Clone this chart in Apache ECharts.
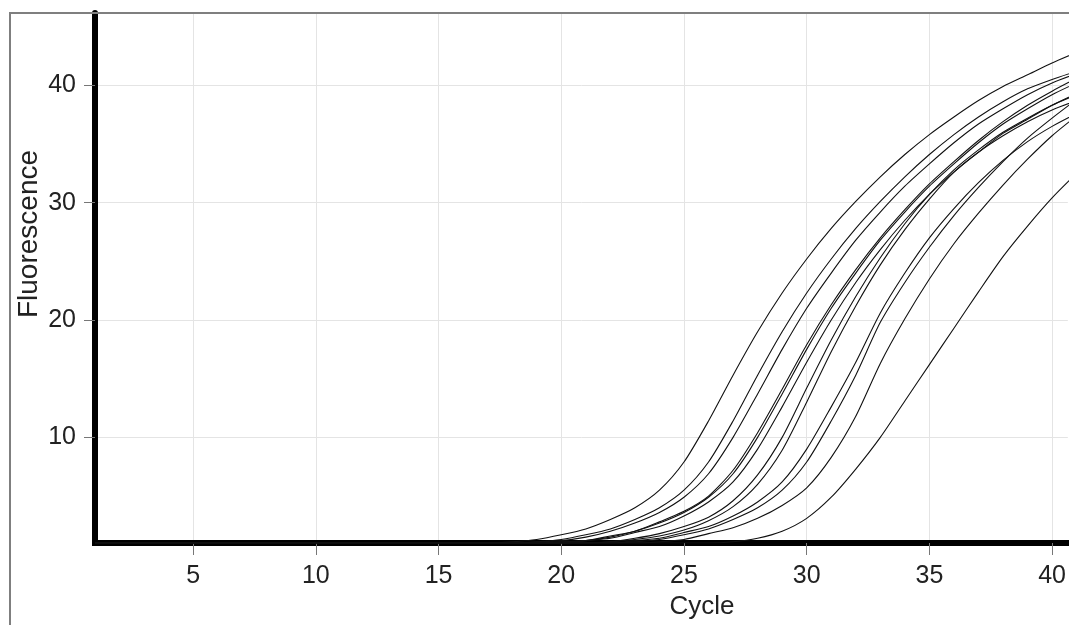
<!DOCTYPE html>
<html>
<head>
<meta charset="utf-8">
<script src="https://cdn.jsdelivr.net/npm/echarts@6/dist/echarts.min.js"></script>
<style>
  html, body { margin: 0; padding: 0; background: #fff; }
  #chart { width: 1069px; height: 625px; }
</style>
</head>
<body>
<div id="chart"></div>
<script>
// amplification curves, one value per cycle (cycle 1..41)
var cycles = [1,2,3,4,5,6,7,8,9,10,11,12,13,14,15,16,17,18,19,20,21,22,23,24,25,26,27,28,29,30,31,32,33,34,35,36,37,38,39,40,41];

var well1 = [1.0,1.0,1.0,1.0,1.0,1.0,1.0,1.0,1.0,1.0,1.0,1.0,1.0,1.0,1.0,1.0,1.0,1.1,1.3,1.7,2.2,3.0,4.0,5.5,7.9,11.4,15.3,19.0,22.3,25.2,27.8,30.1,32.2,34.1,35.8,37.3,38.7,39.9,40.9,41.9,42.8];
var well2 = [1.0,1.0,1.0,1.0,1.0,1.0,1.0,1.0,1.0,1.0,1.0,1.0,1.0,1.0,1.0,1.0,1.0,1.0,1.1,1.3,1.7,2.2,3.0,4.0,5.5,7.9,11.4,15.3,19.0,22.3,25.2,27.8,30.1,32.2,34.1,35.8,37.3,38.6,39.7,40.5,41.2];
var well3 = [1.0,1.0,1.0,1.0,1.0,1.0,1.0,1.0,1.0,1.0,1.0,1.0,1.0,1.0,1.0,1.0,1.0,1.0,1.1,1.2,1.5,2.0,2.7,3.6,4.9,6.9,10.0,13.7,17.5,21.0,24.0,26.8,29.2,31.4,33.3,35.1,36.7,38.0,39.2,40.2,41.0];
var well4 = [1.0,1.0,1.0,1.0,1.0,1.0,1.0,1.0,1.0,1.0,1.0,1.0,1.0,1.0,1.0,1.0,1.0,1.0,1.0,1.1,1.2,1.6,2.0,2.8,3.7,5.0,7.2,10.4,14.1,17.9,21.3,24.3,27.0,29.4,31.6,33.5,35.3,36.9,38.3,39.5,40.6];
var well5 = [1.0,1.0,1.0,1.0,1.0,1.0,1.0,1.0,1.0,1.0,1.0,1.0,1.0,1.0,1.0,1.0,1.0,1.0,1.0,1.1,1.2,1.5,2.0,2.7,3.6,4.9,6.9,10.0,13.7,17.5,21.0,24.0,26.8,29.2,31.4,33.3,35.1,36.7,38.0,39.2,40.2];
var well6 = [1.0,1.0,1.0,1.0,1.0,1.0,1.0,1.0,1.0,1.0,1.0,1.0,1.0,1.0,1.0,1.0,1.0,1.0,1.0,1.0,1.2,1.4,1.9,2.4,3.3,4.5,6.2,9.0,12.6,16.4,20.0,23.2,26.0,28.5,30.7,32.6,34.3,35.9,37.1,38.3,39.3];
var well7 = [1.0,1.0,1.0,1.0,1.0,1.0,1.0,1.0,1.0,1.0,1.0,1.0,1.0,1.0,1.0,1.0,1.0,1.0,1.0,1.0,1.0,1.1,1.4,1.8,2.4,3.2,4.6,6.8,10.0,14.2,18.3,22.0,25.3,28.2,30.7,32.8,34.5,36.0,37.2,38.3,39.2];
var well8 = [1.0,1.0,1.0,1.0,1.0,1.0,1.0,1.0,1.0,1.0,1.0,1.0,1.0,1.0,1.0,1.0,1.0,1.0,1.0,1.0,1.0,1.1,1.3,1.6,2.1,2.9,4.1,6.0,8.9,13.0,17.3,21.2,24.7,27.7,30.3,32.6,34.3,35.7,36.9,37.9,38.7];
var well9 = [1.0,1.0,1.0,1.0,1.0,1.0,1.0,1.0,1.0,1.0,1.0,1.0,1.0,1.0,1.0,1.0,1.0,1.0,1.0,1.0,1.0,1.0,1.2,1.4,1.9,2.4,3.3,4.5,6.2,9.0,12.6,16.4,20.6,24.0,27.0,29.5,31.7,33.6,35.2,36.5,37.6];
var well10 = [1.0,1.0,1.0,1.0,1.0,1.0,1.0,1.0,1.0,1.0,1.0,1.0,1.0,1.0,1.0,1.0,1.0,1.0,1.0,1.0,1.0,1.0,1.1,1.3,1.7,2.2,3.0,4.0,5.5,7.9,11.4,15.3,19.8,23.2,26.2,28.9,31.3,33.5,35.5,37.2,38.8];
var well11 = [1.0,1.0,1.0,1.0,1.0,1.0,1.0,1.0,1.0,1.0,1.0,1.0,1.0,1.0,1.0,1.0,1.0,1.0,1.0,1.0,1.0,1.0,1.0,1.1,1.3,1.8,2.3,3.1,4.2,5.7,8.3,11.8,16.3,20.1,23.5,26.5,29.1,31.5,33.7,35.7,37.4];
var well12 = [1.0,1.0,1.0,1.0,1.0,1.0,1.0,1.0,1.0,1.0,1.0,1.0,1.0,1.0,1.0,1.0,1.0,1.0,1.0,1.0,1.0,1.0,1.0,1.0,1.0,1.0,1.1,1.4,2.0,3.1,4.9,7.3,10.0,13.1,16.2,19.3,22.4,25.4,28.0,30.4,32.5];

var wells = [well1, well2, well3, well4, well5, well6, well7, well8, well9, well10, well11, well12];

var xTicks = [5, 10, 15, 20, 25, 30, 35, 40];
var yTicks = [10, 20, 30, 40];

var myChart = echarts.init(document.getElementById('chart'));

var series = [];
for (var i = 0; i < wells.length; i++) {
  var pts = [];
  for (var j = 0; j < cycles.length; j++) {
    pts.push([cycles[j], wells[i][j]]);
  }
  series.push({
    type: 'line',
    data: pts,
    showSymbol: false,
    symbol: 'none',
    smooth: 0.25,
    clip: true,
    silent: true,
    lineStyle: { color: '#111', width: 1.1 }
  });
}

var fontFam = '"Liberation Sans", Arial, sans-serif';

myChart.setOption({
  animation: false,
  backgroundColor: '#fff',
  grid: { left: 95, right: 0, top: 13, bottom: 82, containLabel: false },
  xAxis: {
    type: 'value',
    min: 1,
    max: 40.64,
    minInterval: 5,
    maxInterval: 5,
    axisLine: { show: true, lineStyle: { color: '#000', width: 6, cap: 'square' } },
    axisTick: { show: true, length: 12, customValues: xTicks, lineStyle: { color: '#777', width: 1 } },
    axisLabel: { customValues: xTicks, margin: 21, color: '#222', fontSize: 25, fontFamily: fontFam },
    splitLine: { show: true, lineStyle: { color: '#e4e4e4', width: 1 } }
  },
  yAxis: {
    type: 'value',
    min: 1,
    max: 46.16,
    minInterval: 10,
    maxInterval: 10,
    axisLine: { show: true, lineStyle: { color: '#000', width: 6 } },
    axisTick: { show: true, length: 11, customValues: yTicks, lineStyle: { color: '#777', width: 1 } },
    axisLabel: { customValues: yTicks, margin: 19, color: '#222', fontSize: 25, fontFamily: fontFam },
    splitLine: { show: true, lineStyle: { color: '#e4e4e4', width: 1 } }
  },
  graphic: [
    {
      type: 'polyline',
      shape: { points: [[10, 630], [10, 13], [1075, 13]] },
      style: { stroke: '#7f7f7f', lineWidth: 2, fill: null },
      z: 1
    },
    {
      type: 'text',
      x: 702,
      y: 607,
      style: { text: 'Cycle', fill: '#222', font: '26px ' + fontFam, align: 'center', verticalAlign: 'middle' }
    },
    {
      type: 'text',
      x: 29,
      y: 234,
      rotation: Math.PI / 2,
      style: { text: 'Fluorescence', fill: '#222', font: '28px ' + fontFam, align: 'center', verticalAlign: 'middle' }
    }
  ],
  series: series
});
</script>
</body>
</html>
